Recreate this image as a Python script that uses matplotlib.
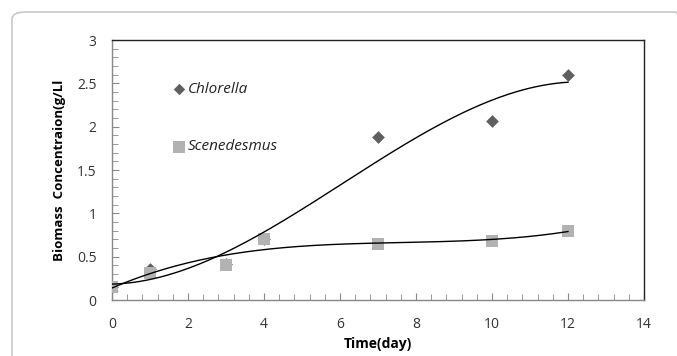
import numpy as np
import matplotlib
matplotlib.use("Agg")
import matplotlib.pyplot as plt
from matplotlib.patches import FancyBboxPatch
from matplotlib.ticker import MultipleLocator

plt.rcParams['font.family'] = ['Open Sans', 'DejaVu Sans']

days_chl = [0, 1, 3, 4, 7, 10, 12]
chlorella = [0.15, 0.36, 0.42, 0.70, 1.88, 2.07, 2.60]
days_sce = [0, 1, 3, 4, 7, 10, 12]
scenedesmus = [0.15, 0.31, 0.40, 0.70, 0.65, 0.68, 0.80]

xticks = [0, 2, 4, 6, 8, 10, 12, 14]
yticks = [0, 0.5, 1, 1.5, 2, 2.5, 3]

fig = plt.figure(figsize=(6.77, 3.56), dpi=100)
border = FancyBboxPatch((12/677, -0.2), 1.0, 1.2 - 12/356,
                        boxstyle="round,pad=0,rounding_size=0.02",
                        transform=fig.transFigure, fill=False,
                        edgecolor='#c8c8c8', linewidth=1.2)
fig.patches.append(border)

ax = fig.add_axes([112/677, 56/356, 532/677, 260/356])

ax.scatter(days_chl, chlorella, marker='D', s=42, color='#5f5f5f', zorder=3,
           linewidths=0)
ax.scatter(days_sce, scenedesmus, marker='s', s=85, color='#b2b2b2', zorder=4,
           linewidths=0)

xs = np.linspace(0, 12, 200)
pc = np.polyfit(days_chl, chlorella, 3)
ps = np.polyfit(days_sce, scenedesmus, 3)
ax.plot(xs, np.polyval(pc, xs), color='black', lw=1.0, zorder=5)
ax.plot(xs, np.polyval(ps, xs), color='black', lw=1.0, zorder=5)

ax.set_xlim(0, 14)
ax.set_ylim(0, 3)
ax.set_xticks(xticks)
ax.set_yticks(yticks)
ax.set_xticklabels([str(v) for v in xticks])
ax.set_yticklabels(['0', '0.5', '1', '1.5', '2', '2.5', '3'])
ax.xaxis.set_minor_locator(MultipleLocator(0.4))
ax.yaxis.set_minor_locator(MultipleLocator(0.1))
ax.tick_params(axis='both', which='both', direction='in', color='#888888',
               labelsize=10, labelcolor='#333333')
ax.tick_params(axis='both', which='major', length=5)
ax.tick_params(axis='both', which='minor', length=4)
ax.tick_params(axis='x', pad=12)
ax.tick_params(axis='y', pad=11)
for s in ['left', 'bottom']:
    ax.spines[s].set_color('#888888')
for s in ['top', 'right']:
    ax.spines[s].set_color('#222222')
for s in ax.spines.values():
    s.set_linewidth(1.0)

ax.set_xlabel('Time(day)', fontsize=10, fontweight='bold', labelpad=4)
ax.set_ylabel('Biomass  Concentraion(g/Ll', fontsize=9.5, fontweight='bold', labelpad=8)

# legend-like labels
ax.scatter([1.75], [2.43], marker='D', s=34, color='#5f5f5f', linewidths=0)
ax.text(2.0, 2.43, 'Chlorella', fontsize=11, style='italic', va='center',
        color='#222222')
ax.scatter([1.75], [1.77], marker='s', s=80, color='#b2b2b2', linewidths=0)
ax.text(2.0, 1.77, 'Scenedesmus', fontsize=11, style='italic', va='center',
        color='#222222')

fig.savefig('out.png', dpi=100)
